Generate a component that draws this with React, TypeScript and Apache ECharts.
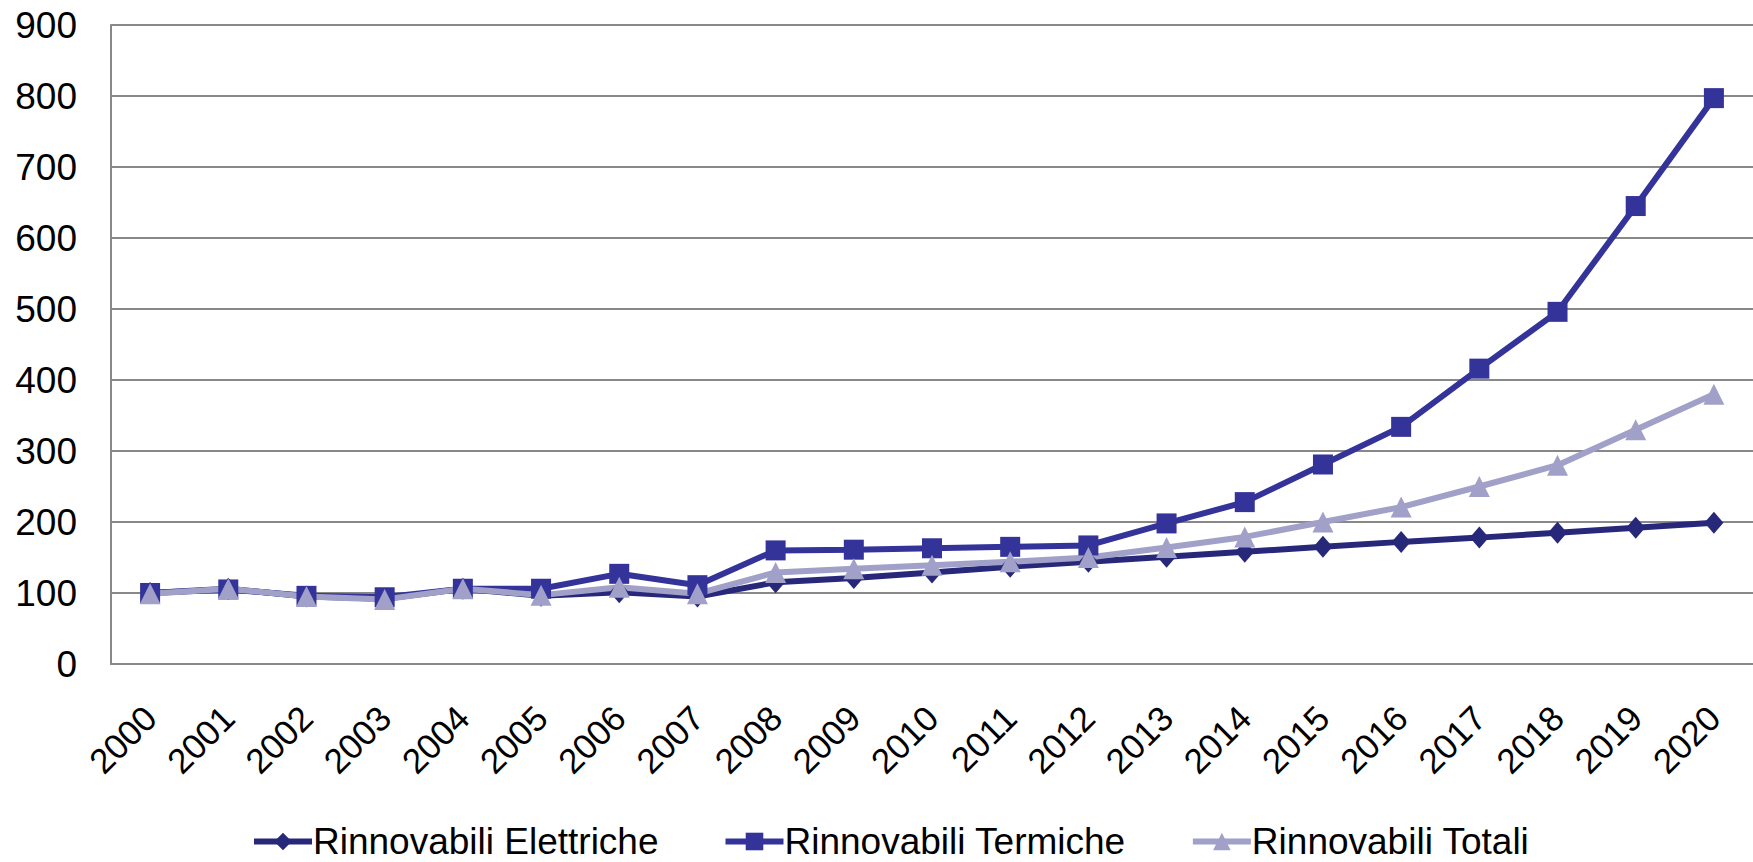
import React, { useEffect, useRef } from "react";
import * as echarts from "echarts";

const years = ["2000","2001","2002","2003","2004","2005","2006","2007","2008","2009","2010","2011","2012","2013","2014","2015","2016","2017","2018","2019","2020"];
const elettriche = [100, 106, 95, 92, 106, 96, 101, 95, 115, 121, 129, 137, 144, 151, 158, 165, 172, 178, 185, 192, 199];
const termiche = [100, 105, 96, 94, 106, 106, 127, 111, 160, 161, 163, 165, 167, 198, 228, 281, 334, 416, 496, 645, 797];
const totali = [99, 106, 95, 91, 106, 97, 108, 99, 129, 134, 139, 144, 150, 164, 179, 200, 221, 250, 280, 330, 380];
const yTicks = { min: 0, max: 900, interval: 100 };

const FONT = "'Liberation Sans', Arial, sans-serif";

export default function App() {
  const ref = useRef<HTMLDivElement>(null);
  useEffect(() => {
    if (!ref.current) return;
    const chart = echarts.init(ref.current, null, { renderer: "svg" });
    chart.setOption({
      animation: false,
      backgroundColor: "#ffffff",
      textStyle: { fontFamily: FONT },
      grid: { left: 111, right: 0, top: 25, bottom: 198, containLabel: false },
      legend: {
        left: 246,
        top: 818,
        itemWidth: 58,
        itemHeight: 22,
        itemGap: 64,
        lineStyle: { width: 6 },
        textStyle: { fontSize: 37, color: "#000", fontFamily: FONT, padding: [0, 0, 0, -4] },
        data: ["Rinnovabili Elettriche", "Rinnovabili Termiche", "Rinnovabili Totali"],
      },
      xAxis: {
        type: "category",
        data: years,
        boundaryGap: true,
        axisLine: { show: true, lineStyle: { color: "#888888", width: 2 } },
        axisTick: { show: false },
        axisLabel: { rotate: 45, fontSize: 35, color: "#000", margin: 48, fontFamily: FONT, interval: 0 },
      },
      yAxis: {
        type: "value",
        min: yTicks.min,
        max: yTicks.max,
        interval: yTicks.interval,
        axisLine: { show: true, lineStyle: { color: "#888888", width: 2 } },
        axisTick: { show: false },
        splitLine: { show: true, lineStyle: { color: "#888888", width: 2 } },
        axisLabel: { fontSize: 37, color: "#000", margin: 34, fontFamily: FONT },
      },
      series: [
        {
          name: "Rinnovabili Elettriche",
          type: "line",
          data: elettriche,
          symbol: "diamond",
          symbolSize: [19, 22],
          showAllSymbol: true,
          lineStyle: { color: "#28287a", width: 6 },
          itemStyle: { color: "#28287a" },
        },
        {
          name: "Rinnovabili Termiche",
          type: "line",
          data: termiche,
          symbol: "rect",
          symbolSize: 20,
          showAllSymbol: true,
          lineStyle: { color: "#333399", width: 6 },
          itemStyle: { color: "#333399" },
        },
        {
          name: "Rinnovabili Totali",
          type: "line",
          data: totali,
          symbol: "triangle",
          symbolSize: 21,
          showAllSymbol: true,
          lineStyle: { color: "#a0a0c8", width: 6 },
          itemStyle: { color: "#a0a0c8" },
        },
      ],
    });
    return () => chart.dispose();
  }, []);
  return (
    <div
      ref={ref}
      style={{ position: "fixed", left: 0, top: 0, width: 1753, height: 862, background: "#fff" }}
    />
  );
}
